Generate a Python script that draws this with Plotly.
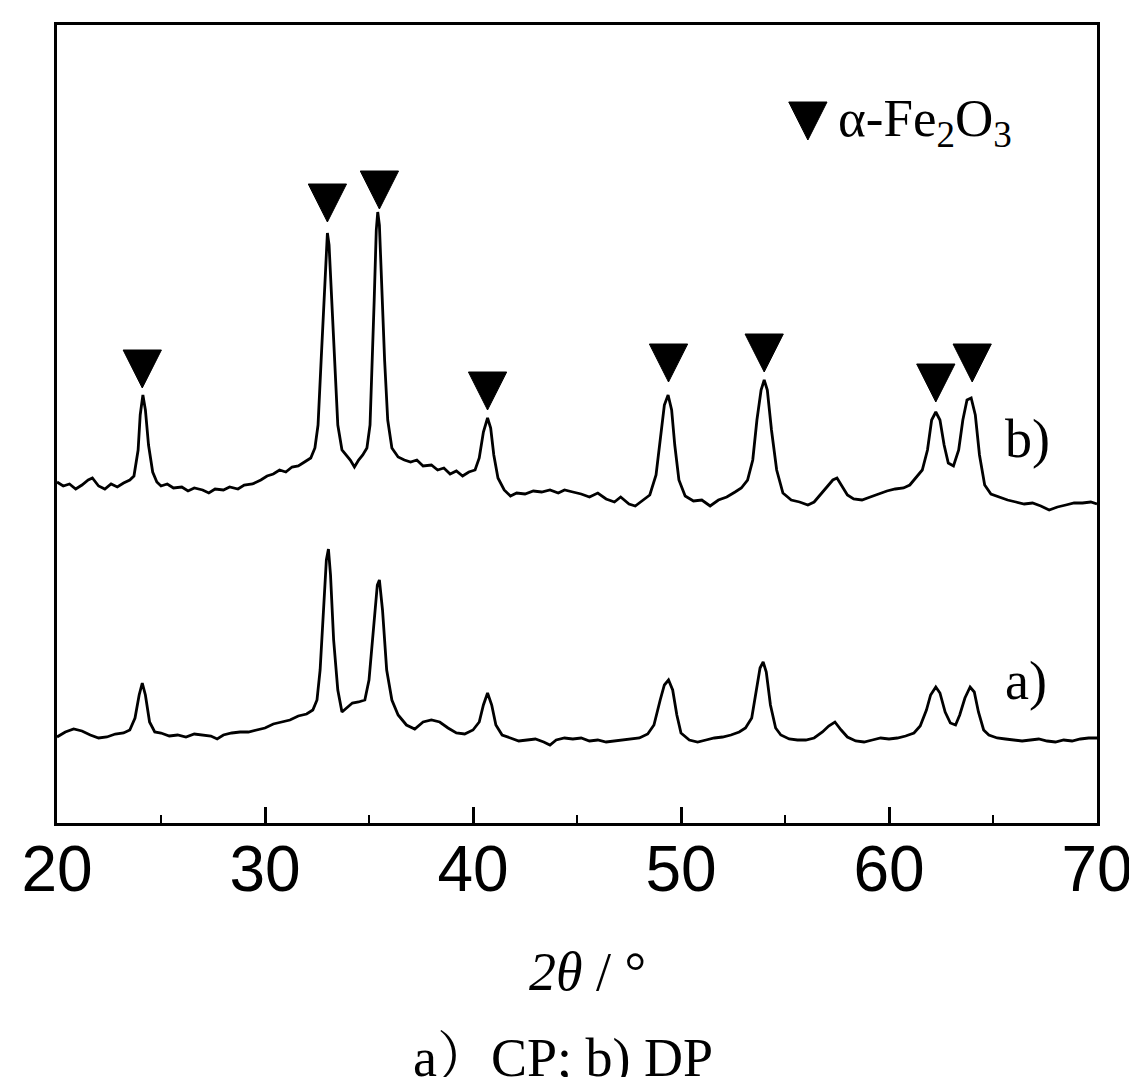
import plotly.graph_objects as go

# ---- data (2θ in degrees, intensity in arbitrary units, offset already applied) ----
two_theta_b = [20.0, 20.3, 20.6, 20.9, 21.2, 21.5, 21.7, 22.0, 22.3, 22.6, 22.9, 23.2, 23.5, 23.7, 23.9,
               24.0, 24.13, 24.25, 24.4, 24.6, 24.8, 25.0, 25.3, 25.6, 26.0, 26.3, 26.6, 27.0, 27.3, 27.6,
               28.0, 28.3, 28.7, 29.0, 29.4, 29.8, 30.1, 30.4, 30.7, 31.0, 31.3, 31.6, 31.9, 32.2, 32.4,
               32.55, 32.7, 32.85, 32.95, 33.0, 33.08, 33.2, 33.35, 33.5, 33.7, 33.9, 34.1, 34.3, 34.5,
               34.7, 34.9, 35.05, 35.15, 35.25, 35.35, 35.42, 35.5, 35.6, 35.75, 35.9, 36.1, 36.4, 36.7,
               37.0, 37.3, 37.6, 38.0, 38.3, 38.6, 38.9, 39.2, 39.5, 39.8, 40.1, 40.3, 40.5, 40.7, 40.85,
               41.0, 41.2, 41.5, 41.8, 42.1, 42.5, 42.9, 43.3, 43.7, 44.1, 44.4, 44.8, 45.2, 45.6, 46.0,
               46.4, 46.8, 47.1, 47.5, 47.8, 48.2, 48.5, 48.8, 49.0, 49.2, 49.38, 49.55, 49.7, 49.9, 50.2,
               50.6, 51.0, 51.4, 51.8, 52.2, 52.6, 52.9, 53.2, 53.45, 53.65, 53.85, 54.0, 54.15, 54.35,
               54.6, 54.9, 55.3, 55.7, 56.1, 56.4, 56.7, 57.0, 57.3, 57.5, 57.7, 58.0, 58.3, 58.7, 59.1,
               59.5, 59.9, 60.3, 60.7, 61.0, 61.3, 61.6, 61.85, 62.05, 62.25, 62.45, 62.65, 62.85, 63.1,
               63.35, 63.55, 63.75, 63.95, 64.15, 64.35, 64.6, 64.9, 65.3, 65.7, 66.1, 66.5, 66.9, 67.3,
               67.7, 68.1, 68.5, 68.9, 69.3, 69.7, 70.0]
intensity_b = [341, 337, 339, 334, 338, 343, 345, 337, 334, 339, 336, 340, 343, 347, 373,
               408, 428, 413, 378, 351, 341, 337, 339, 335, 336, 332, 335, 333, 330, 334,
               333, 336, 334, 338, 339, 343, 347, 349, 353, 351, 356, 357, 361, 365, 375,
               398, 463, 533, 583, 590, 578, 523, 453, 398, 373, 368, 363, 356, 363,
               368, 375, 398, 453, 523, 593, 611, 598, 543, 463, 403, 375, 366, 363,
               361, 363, 357, 358, 353, 355, 349, 352, 347, 351, 353, 365, 391, 405, 395,
               368, 345, 333, 327, 330, 329, 332, 331, 333, 330, 333, 331, 329, 326, 330,
               324, 321, 326, 319, 317, 323, 328, 348, 383, 418, 428, 413, 378, 343, 327,
               322, 323, 317, 323, 326, 331, 335, 343, 363, 403, 433, 443, 433, 393,
               353, 330, 323, 321, 318, 321, 328, 335, 343, 345, 338, 328, 324, 323, 326,
               329, 332, 334, 335, 338, 346, 353, 373, 403, 411, 403, 378, 360, 357,
               373, 403, 423, 425, 408, 368, 338, 329, 326, 323, 321, 319, 320, 317,
               313, 316, 318, 320, 320, 321, 319]

two_theta_a = [20.0, 20.4, 20.8, 21.2, 21.6, 22.0, 22.4, 22.8, 23.2, 23.5, 23.75, 23.95, 24.1, 24.25,
               24.45, 24.7, 25.0, 25.4, 25.8, 26.2, 26.6, 27.0, 27.4, 27.7, 28.0, 28.4, 28.8, 29.2, 29.6,
               30.0, 30.4, 30.8, 31.2, 31.6, 32.0, 32.3, 32.5, 32.65, 32.8, 32.95, 33.05, 33.15, 33.3,
               33.5, 33.7, 33.9, 34.2, 34.5, 34.8, 35.0, 35.2, 35.4, 35.5, 35.65, 35.85, 36.1, 36.4, 36.8,
               37.2, 37.6, 38.0, 38.4, 38.8, 39.2, 39.6, 40.0, 40.3, 40.5, 40.7, 40.9, 41.1, 41.4, 41.8,
               42.2, 42.6, 43.0, 43.4, 43.7, 44.0, 44.4, 44.8, 45.2, 45.6, 46.0, 46.4, 46.8, 47.2, 47.6,
               48.0, 48.4, 48.7, 49.0, 49.2, 49.4, 49.6, 49.8, 50.0, 50.4, 50.8, 51.2, 51.6, 52.0, 52.4,
               52.8, 53.1, 53.4, 53.6, 53.8, 53.95, 54.1, 54.3, 54.55, 54.8, 55.2, 55.6, 56.0, 56.4, 56.8,
               57.1, 57.4, 57.7, 58.0, 58.4, 58.8, 59.2, 59.6, 60.0, 60.4, 60.8, 61.2, 61.5, 61.8, 62.0,
               62.25, 62.45, 62.7, 62.95, 63.2, 63.4, 63.65, 63.9, 64.1, 64.3, 64.55, 64.8, 65.2, 65.6,
               66.0, 66.4, 66.8, 67.2, 67.6, 68.0, 68.4, 68.8, 69.2, 69.6, 70.0]
intensity_a = [86, 91, 94, 92, 88, 85, 86, 89, 90, 93, 105, 128, 140, 128,
               101, 91, 90, 87, 88, 86, 89, 88, 87, 84, 88, 90, 91, 91, 93,
               95, 99, 101, 103, 107, 109, 113, 123, 153, 213, 263, 274, 248, 183,
               133, 111, 115, 120, 121, 123, 143, 193, 238, 243, 213, 153, 123, 108, 98,
               94, 101, 103, 101, 95, 90, 89, 93, 101, 118, 130, 118, 98, 88, 85,
               82, 83, 84, 81, 78, 83, 85, 84, 85, 82, 83, 81, 82, 83, 84,
               85, 89, 98, 123, 138, 143, 133, 108, 90, 83, 81, 83, 85, 86, 88,
               91, 95, 105, 128, 155, 161, 151, 118, 95, 88, 84, 83, 83, 85, 91,
               97, 101, 93, 86, 82, 81, 83, 85, 84, 85, 87, 90, 97, 113, 128,
               136, 130, 111, 100, 98, 108, 125, 136, 131, 111, 93, 88, 85, 84,
               83, 82, 83, 84, 82, 81, 83, 82, 84, 85, 85]

# α-Fe2O3 peak markers (trace b): position and marker tip height
marker_theta = [24.1, 33.0, 35.5, 40.7, 49.4, 54.0, 62.25, 64.0]
marker_tip = [435, 601, 614, 413, 441, 451, 421, 441]
legend_theta = [56.1]
legend_tip = [683]

tick_vals = [20, 30, 40, 50, 60, 70]
tick_text = ["20", "30", "40", "50", "60", "70"]

# ---- style constants ----
TRI_HALF_W = 0.92   # half width of triangles in 2θ units
TRI_H = 38          # triangle height in intensity units
SERIF = "Times New Roman, Liberation Serif, Noto Serif CJK SC, Noto Sans CJK SC, serif"


def triangles(xs, tips):
    px, py = [], []
    for x, t in zip(xs, tips):
        px += [x - TRI_HALF_W, x + TRI_HALF_W, x, x - TRI_HALF_W, None]
        py += [t + TRI_H, t + TRI_H, t, t + TRI_H, None]
    return px, py


fig = go.Figure()
fig.add_trace(go.Scatter(x=two_theta_a, y=intensity_a, mode="lines",
                         line=dict(color="black", width=2.8), name="a) CP", showlegend=False))
fig.add_trace(go.Scatter(x=two_theta_b, y=intensity_b, mode="lines",
                         line=dict(color="black", width=2.8), name="b) DP", showlegend=False))

tx, ty = triangles(marker_theta + legend_theta, marker_tip + legend_tip)
fig.add_trace(go.Scatter(x=tx, y=ty, mode="lines", fill="toself", fillcolor="black",
                         line=dict(color="black", width=1), showlegend=False, hoverinfo="skip"))

fig.add_annotation(x=57.45, y=701, xref="x", yref="y", text="α-Fe<sub>2</sub>O<sub>3</sub>",
                   showarrow=False, xanchor="left", yanchor="middle",
                   font=dict(family=SERIF, size=53, color="black"))
fig.add_annotation(x=66.68, y=384, xref="x", yref="y", text="b)", showarrow=False,
                   font=dict(family=SERIF, size=54, color="black"))
fig.add_annotation(x=66.6, y=142, xref="x", yref="y", text="a)", showarrow=False,
                   font=dict(family=SERIF, size=54, color="black"))

fig.add_annotation(x=0.51, y=-0.187, xref="paper", yref="paper", text="<i>2θ</i> / °",
                   showarrow=False, yanchor="middle",
                   font=dict(family=SERIF, size=54, color="black"))
fig.add_annotation(x=0.487, y=-0.295, xref="paper", yref="paper", text="a）CP; b) DP",
                   showarrow=False, yanchor="middle",
                   font=dict(family=SERIF, size=54, color="black"))

fig.update_xaxes(range=[20, 70], tickmode="array", tickvals=tick_vals, ticktext=tick_text,
                 ticks="inside", ticklen=16, tickwidth=2.5, tickcolor="black",
                 minor=dict(ticks="inside", ticklen=8, tickwidth=2, tickcolor="black", dtick=5),
                 showline=True, linewidth=3, linecolor="black", mirror=True,
                 showgrid=False, zeroline=False, ticklabelstandoff=-12, automargin=False,
                 tickfont=dict(family="Liberation Sans, Arial, sans-serif", size=64, color="black"))
fig.update_yaxes(range=[0, 798], showticklabels=False, ticks="", showline=True, linewidth=3,
                 linecolor="black", mirror=True, showgrid=False, zeroline=False, automargin=False)

# page body adds an 8px offset, so the figure is 8px smaller and margins shifted accordingly
fig.update_layout(width=1129, height=1069, margin=dict(l=49, r=40, t=17, b=254, autoexpand=False),
                  paper_bgcolor="white", plot_bgcolor="white", showlegend=False)

fig.write_html("out.html")
